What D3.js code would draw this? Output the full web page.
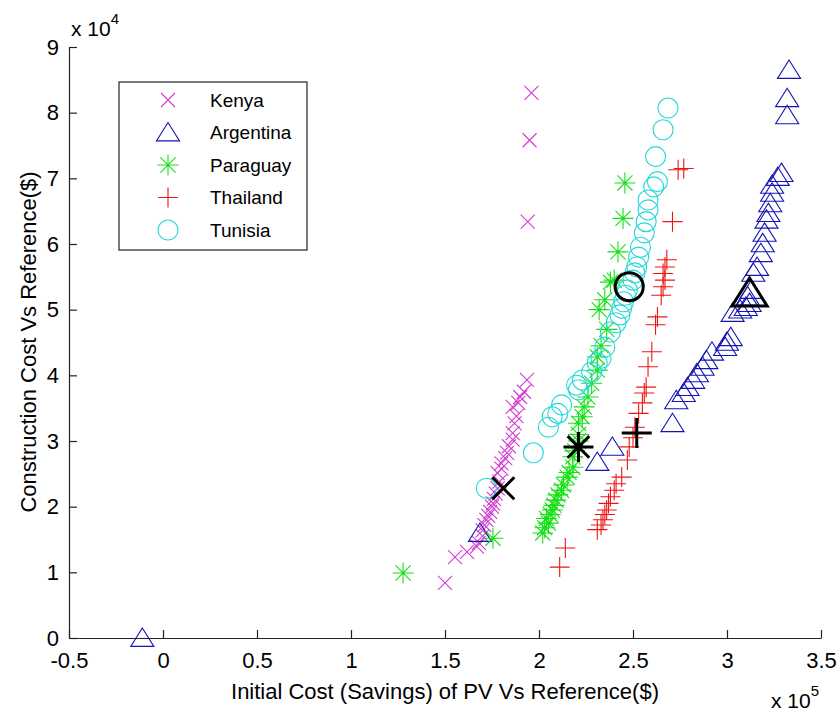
<!DOCTYPE html>
<html>
<head>
<meta charset="utf-8">
<script src="https://cdn.jsdelivr.net/npm/d3@7"></script>
<style>
  body { margin: 0; background: #fff; }
  text { font-family: "Liberation Sans", Arial, sans-serif; fill: #000; }
</style>
</head>
<body>
<div id="chart"></div>
<script>
// Values: x = initial cost ($), y = construction cost ($)
const kenyaX = [150000, 155300, 161700, 167000, 168000, 170000, 170000, 171000, 172000, 173000, 174000, 175000, 175500, 176000, 177000, 178000, 179000, 178000, 180000, 180000, 182000, 183000, 184000, 186000, 186000, 187000, 188000, 186000, 189000, 190000, 192000, 193600, 194000, 195000, 196000];
const kenyaY = [8400, 12300, 13100, 13900, 14500, 15500, 16400, 17200, 18000, 18600, 19200, 20000, 20500, 21200, 22000, 22800, 23800, 25100, 25800, 26600, 27400, 28200, 29200, 30200, 31200, 32700, 33800, 35200, 35800, 36700, 37500, 39300, 63400, 75800, 83000];

const argentinaX = [-11000, 168600, 231000, 239000, 271000, 273000, 277000, 279000, 282000, 284000, 287000, 289000, 292000, 299000, 300000, 302000, 303000, 307000, 310000, 312000, 311000, 313000, 314000, 316000, 318000, 319000, 320000, 321000, 322000, 323000, 324000, 324000, 327000, 329000, 332000, 332000, 333000];
const argentinaY = [0, 16000, 26800, 29100, 32700, 36200, 37300, 38200, 39300, 40300, 41300, 42300, 43600, 44300, 45100, 45800, 49500, 50000, 50400, 51000, 52000, 53000, 55600, 56500, 58600, 60100, 61700, 63700, 64700, 66200, 67800, 69000, 70200, 70800, 79600, 82200, 86500];

const paraguayX = [127700, 175500, 202000, 203000, 205000, 204000, 206000, 207000, 208000, 209000, 210000, 212000, 213000, 215000, 216000, 218000, 218000, 219000, 221000, 221000, 221000, 223000, 224000, 226000, 228000, 231000, 231000, 233000, 236000, 232000, 235000, 238000, 240000, 242000, 244700, 245700];
const paraguayY = [9900, 15200, 16000, 16800, 17500, 18200, 18800, 19500, 20200, 21000, 21800, 22500, 23300, 24500, 25200, 26000, 27600, 28500, 30000, 31000, 32700, 33700, 35200, 36700, 38800, 40800, 42800, 44500, 47000, 50000, 51500, 54200, 54500, 58800, 63900, 69300];

const thailandX = [211000, 214000, 231000, 233000, 234000, 235000, 236000, 237000, 238000, 240000, 241000, 244000, 247000, 248000, 250000, 251000, 253000, 255000, 256000, 257000, 258000, 260000, 262000, 263000, 265000, 266000, 267000, 266000, 267000, 268000, 271000, 274000, 277000];
const thailandY = [10800, 13700, 16500, 17200, 18000, 18800, 19500, 20500, 21500, 22500, 23500, 24500, 27100, 29100, 30500, 32100, 34200, 35800, 37300, 38200, 41300, 43600, 47700, 48900, 52200, 53500, 54500, 55500, 56500, 57600, 63400, 71300, 71500];

const tunisiaX = [172000, 197000, 205000, 207000, 210000, 212000, 220000, 221000, 223000, 228000, 231000, 233000, 235000, 238000, 241000, 243000, 244000, 245000, 246000, 247000, 250000, 251000, 252000, 253000, 254000, 256000, 257000, 258000, 258000, 261000, 263000, 262000, 266000, 268600];
const tunisiaY = [22800, 28200, 32100, 33700, 34200, 35500, 38500, 37800, 39300, 40500, 41900, 42600, 44300, 46600, 48000, 49200, 50200, 51200, 52200, 53000, 54500, 55600, 56500, 58000, 59500, 61700, 63400, 65200, 66700, 68700, 69500, 73300, 77400, 80700];

// one highlighted (reference) point for each country
const highlightX = [181000, 312000, 221000, 252000, 248000];
const highlightY = [22800, 52500, 29100, 31200, 53500];

const countries = ['Kenya', 'Argentina', 'Paraguay', 'Thailand', 'Tunisia'];
const markers = ['x', 'triangle', 'star', 'plus', 'circle'];
const colors = ['#d23cd2', '#1414b4', '#14e014', '#ee1414', '#22d8d8'];

const xTicks = [-50000, 0, 50000, 100000, 150000, 200000, 250000, 300000, 350000];
const yTicks = [0, 10000, 20000, 30000, 40000, 50000, 60000, 70000, 80000, 90000];

const seriesX = [kenyaX, argentinaX, paraguayX, thailandX, tunisiaX];
const seriesY = [kenyaY, argentinaY, paraguayY, thailandY, tunisiaY];

const width = 839;
const height = 713;

const svg = d3.select('#chart').append('svg')
    .attr('width', width)
    .attr('height', height);

const xScale = d3.scaleLinear().domain([-50000, 350000]).range([69, 821]);
const yScale = d3.scaleLinear().domain([0, 90000]).range([638, 47]);

// marker outlines, s = half size
function markerPath(type, s) {
    const p = d3.path();
    if (type === 'x') {
        p.moveTo(-s, -s); p.lineTo(s, s);
        p.moveTo(-s, s); p.lineTo(s, -s);
    } else if (type === 'plus') {
        p.moveTo(-s, 0); p.lineTo(s, 0);
        p.moveTo(0, -s); p.lineTo(0, s);
    } else if (type === 'star') {
        const d = s * 0.72;
        p.moveTo(-s, 0); p.lineTo(s, 0);
        p.moveTo(0, -s); p.lineTo(0, s);
        p.moveTo(-d, -d); p.lineTo(d, d);
        p.moveTo(-d, d); p.lineTo(d, -d);
    } else if (type === 'triangle') {
        p.moveTo(0, -s * 0.95);
        p.lineTo(s * 1.1, s * 0.8);
        p.lineTo(-s * 1.1, s * 0.8);
        p.closePath();
    } else {
        p.arc(0, 0, s, 0, 2 * Math.PI);
    }
    return p.toString();
}

const normalSize = {x: 7, triangle: 10.5, star: 10.5, plus: 10, circle: 10};
const bigSize = {x: 11, triangle: 16, star: 15, plus: 15, circle: 14};

// Axes
const xAxis = d3.axisBottom(xScale)
    .tickValues(xTicks)
    .tickSizeInner(-8)
    .tickSizeOuter(0)
    .tickPadding(14)
    .tickFormat(d => String(+(d / 1e5).toFixed(1)));

const yAxis = d3.axisLeft(yScale)
    .tickValues(yTicks)
    .tickSizeInner(-8)
    .tickSizeOuter(0)
    .tickPadding(10)
    .tickFormat(d => String(d / 1e4));

const xAxisGroup = svg.append('g')
    .attr('class', 'axis x-axis')
    .attr('transform', 'translate(0,638)')
    .call(xAxis);

const yAxisGroup = svg.append('g')
    .attr('class', 'axis y-axis')
    .attr('transform', 'translate(69,0)')
    .call(yAxis);

svg.selectAll('.axis text')
    .style('font-size', '22px')
    .style('font-family', '"Liberation Sans", Arial, sans-serif');
svg.selectAll('.axis path, .axis line')
    .attr('stroke', '#222')
    .attr('stroke-width', 1.2);

// Points, series by series
countries.forEach((name, i) => {
    const pts = seriesX[i].map((x, j) => ({x: x, y: seriesY[i][j]}));
    svg.append('g')
        .selectAll('path')
        .data(pts)
        .enter()
        .append('path')
        .attr('d', markerPath(markers[i], normalSize[markers[i]]))
        .attr('transform', d => `translate(${xScale(d.x)},${yScale(d.y)})`)
        .attr('fill', 'none')
        .attr('stroke', colors[i])
        .attr('stroke-width', 1.1);
});

// Highlighted black points
svg.append('g')
    .selectAll('path')
    .data(countries)
    .enter()
    .append('path')
    .attr('d', (d, i) => markerPath(markers[i], bigSize[markers[i]]))
    .attr('transform', (d, i) => `translate(${xScale(highlightX[i])},${yScale(highlightY[i])})`)
    .attr('fill', 'none')
    .attr('stroke', '#000')
    .attr('stroke-width', 3);

// Axis labels and exponents
svg.append('text')
    .attr('x', 445)
    .attr('y', 699)
    .attr('text-anchor', 'middle')
    .style('font-size', '22px')
    .text('Initial Cost (Savings) of PV Vs Reference($)');

svg.append('text')
    .attr('transform', 'translate(36,342) rotate(-90)')
    .attr('text-anchor', 'middle')
    .style('font-size', '22px')
    .text('Construction Cost Vs Reference($)');

const exp4 = svg.append('text').attr('x', 71).attr('y', 36).style('font-size', '21px');
exp4.append('tspan').text('x 10');
exp4.append('tspan').attr('dy', -12).style('font-size', '15px').text('4');

const exp5 = svg.append('text').attr('x', 771).attr('y', 708).style('font-size', '21px');
exp5.append('tspan').text('x 10');
exp5.append('tspan').attr('dy', -12).style('font-size', '15px').text('5');

// Legend
const legend = svg.append('g').attr('class', 'legend');
legend.append('rect')
    .attr('x', 119)
    .attr('y', 82)
    .attr('width', 188)
    .attr('height', 168)
    .attr('fill', '#fff')
    .attr('stroke', '#222')
    .attr('stroke-width', 1.2);

const items = legend.selectAll('g.item')
    .data(countries)
    .enter()
    .append('g')
    .attr('class', 'item')
    .attr('transform', (d, i) => `translate(0,${100 + i * 32.5})`);

items.append('path')
    .attr('d', (d, i) => markerPath(markers[i], normalSize[markers[i]]))
    .attr('transform', 'translate(168,0)')
    .attr('fill', 'none')
    .attr('stroke', (d, i) => colors[i])
    .attr('stroke-width', 1.1);

items.append('text')
    .attr('x', 210)
    .attr('dy', '0.36em')
    .style('font-size', '19px')
    .text(d => d);
</script>
</body>
</html>
